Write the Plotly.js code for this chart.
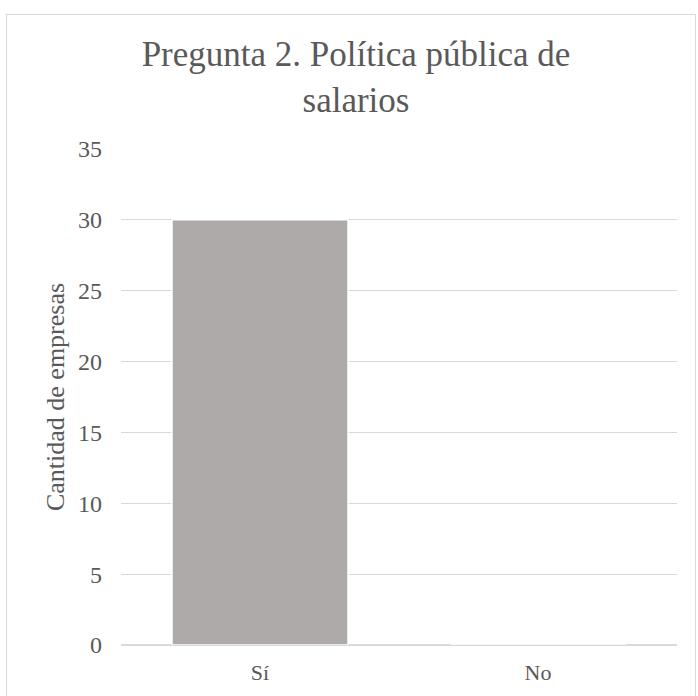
<!DOCTYPE html>
<html>
<head>
<meta charset="utf-8">
<script src="https://cdn.plot.ly/plotly-3.0.1.min.js"></script>
<style>
  html, body { margin: 0; padding: 0; background: #ffffff; overflow: hidden; }
  #frame { position: absolute; left: 6px; top: 14px; width: 690px; height: 700px;
           border: 1.5px solid #d9d9d9; box-sizing: border-box; pointer-events: none; z-index: 2; }
  #chart { position: absolute; left: 0; top: 0; width: 698px; height: 696px; }
</style>
</head>
<body>
<div id="chart"></div>
<div id="frame"></div>
<script>
const categories = ["Sí", "No"];
const values = [30, 0];
const yTickValues = [0, 5, 10, 15, 20, 25, 30, 35];
const chartTitle = "Pregunta 2. Política pública de<br>salarios";
const yAxisTitle = "Cantidad de empresas";

const fontFamily = "'Liberation Serif', 'Times New Roman', serif";
const textColor = "#595959";

const trace = {
  type: "bar",
  x: categories,
  y: values,
  marker: { color: "#AEAAAA", line: { color: "#ffffff", width: 1.5 } },
  hoverinfo: "none"
};

const layout = {
  width: 698,
  height: 696,
  margin: { l: 121, r: 21, t: 149, b: 51, pad: 0 },
  paper_bgcolor: "#ffffff",
  plot_bgcolor: "#ffffff",
  showlegend: false,
  bargap: 0.367,
  font: { family: fontFamily, color: textColor, size: 22 },
  title: {
    text: chartTitle,
    font: { family: fontFamily, color: textColor, size: 35 },
    x: 0.51, xanchor: "center",
    y: 1 - 66 / 696, yanchor: "top",
    yref: "container"
  },
  xaxis: {
    type: "category",
    tickfont: { family: fontFamily, color: textColor, size: 22 },
    showgrid: false,
    showline: false,
    zeroline: false,
    ticks: "",
    ticklabelstandoff: 12,
    fixedrange: true
  },
  yaxis: {
    range: [0, 35],
    tickvals: yTickValues,
    ticktext: yTickValues.map(String),
    tickfont: { family: fontFamily, color: textColor, size: 24 },
    showgrid: true,
    gridcolor: "#D9D9D9",
    gridwidth: 1,
    zeroline: true,
    zerolinecolor: "#D9D9D9",
    zerolinewidth: 1.5,
    showline: false,
    ticks: "",
    ticklabelstandoff: 18,
    title: {
      text: yAxisTitle,
      font: { family: fontFamily, color: textColor, size: 26 },
      standoff: 5
    },
    automargin: false,
    fixedrange: true
  }
};

Plotly.newPlot("chart", [trace], layout, { displayModeBar: false, staticPlot: true });
</script>
</body>
</html>
